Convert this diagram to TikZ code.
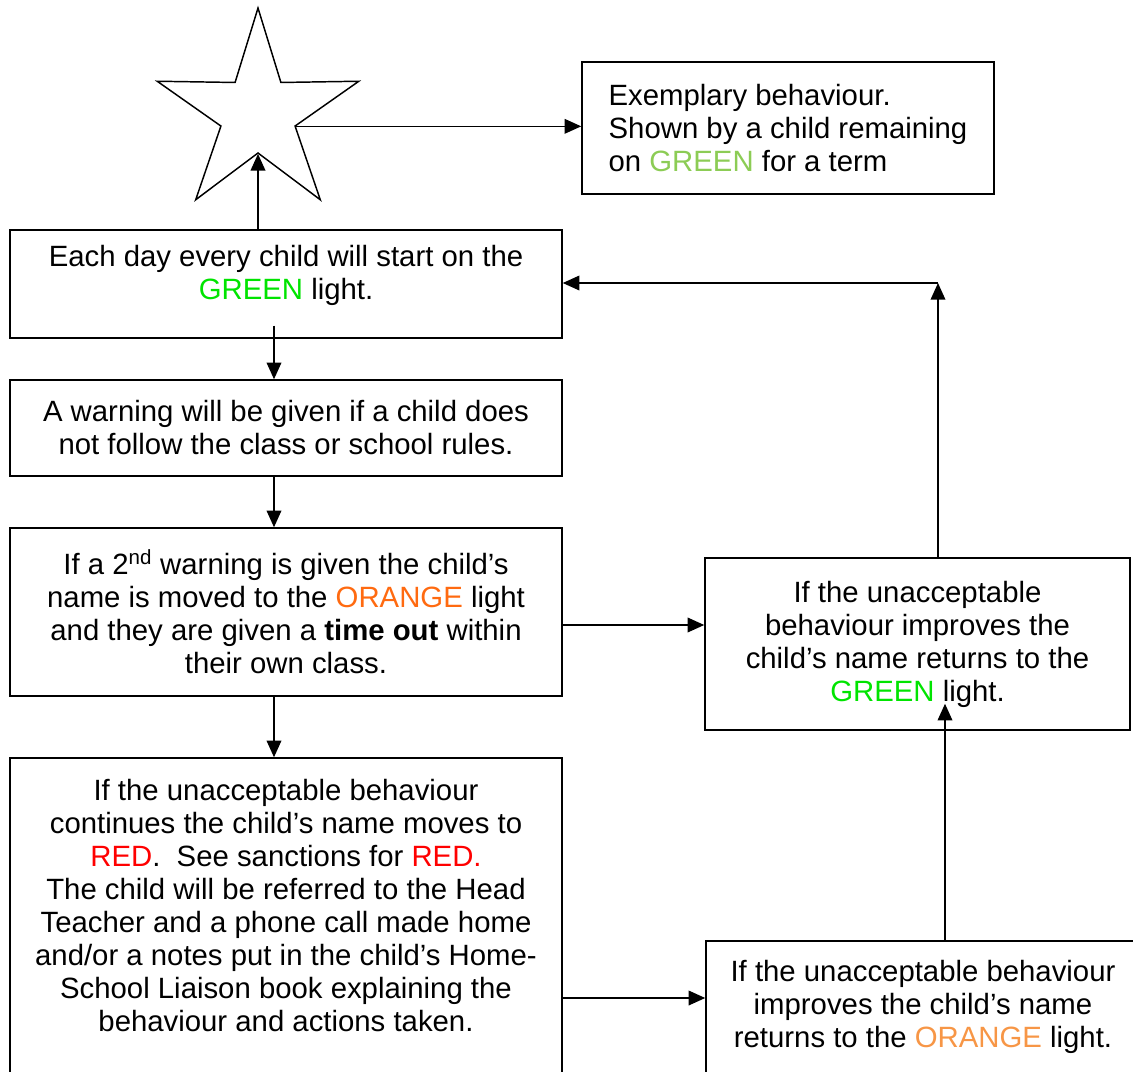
\documentclass[tikz,border=0pt]{standalone}
\usepackage{fontspec}
\setmainfont{Liberation Sans}
\usetikzlibrary{shapes.geometric,arrows.meta,calc}
\definecolor{lightgreen}{HTML}{00E400}
\definecolor{olivegreen}{HTML}{8CCC55}
\definecolor{darkorange}{HTML}{FF6A10}
\definecolor{paleorange}{HTML}{F79646}
\tikzset{arr/.style={-{Triangle[length=12.5pt,width=11pt]}},
  box/.style={draw, align=center, inner sep=0pt, font=\fontsize{22}{24.75}\selectfont}}

\begin{document}
\begin{tikzpicture}[x=0.75pt,y=-0.75pt,line width=1.1pt]
   \clip (0,0) rectangle (1133,1072);
   \node[draw, star, star points=5, star point ratio=2.72, minimum size=159pt, inner sep=0pt] (star) at (258,114) {};
   \node[box, align=left, minimum width=309pt, minimum height=99pt] (exemplary) at (788,128)
     {Exemplary behaviour.\\Shown by a child remaining\\on \textcolor{olivegreen}{GREEN} for a term};
   \node[box, minimum width=414pt, minimum height=81pt] (start) at (286,284)
     {Each day every child will start on the\\\textcolor{lightgreen}{GREEN} light.\\[-7pt] \mbox{}};
   \node[box, minimum width=414pt, minimum height=72pt] (warning) at (286,428)
     {A warning will be given if a child does\\not follow the class or school rules.};
   \node[box, minimum width=414pt, minimum height=126pt] (timeout) at (286,612)
     {If a 2\textsuperscript{nd} warning is given the child’s\\name is moved to the \textcolor{darkorange}{ORANGE} light\\and they are given a \textbf{time out} within\\their own class.};
   \node[box, minimum width=414pt, minimum height=246pt] (red) at (286,922)
     {If the unacceptable behaviour\\continues the child’s name moves to\\\textcolor{red}{RED}.\ \ See sanctions for \textcolor{red}{RED.}\\The child will be referred to the Head\\Teacher and a phone call made home\\and/or a notes put in the child’s Home-\\School Liaison book explaining the\\behaviour and actions taken.\\ \mbox{}};
   \node[box, minimum width=318.75pt, minimum height=129pt] (backgreen) at (917.5,644)
     {If the unacceptable\\behaviour improves the\\child’s name returns to the\\\textcolor{lightgreen}{GREEN} light.};
   \node[box, minimum width=325.5pt, minimum height=104.25pt] (backorange) at (923,1010.5)
     {If the unacceptable behaviour\\improves the child’s name\\returns to the \textcolor{paleorange}{ORANGE} light.\\[-15.5pt] \mbox{}};
   % connectors
   \coordinate (spine) at (274,0);
   \coordinate (turn) at (938,283);
   \coordinate (up) at (945,0);
   \coordinate (toright) at ($(timeout.east)+(0,13)$);
   \coordinate (tobottom) at ($(red.east)+(0,76)$);
   \draw[arr] (start.north -| star.inner point 3) -- (star.inner point 3);
   \draw[arr] (star.inner point 4) -- (star.inner point 4 -| exemplary.west);
   \draw[arr] ($(start.south -| spine)+(0,-13)$) -- (warning.north -| spine);
   \draw[arr] (warning.south -| spine) -- (timeout.north -| spine);
   \draw[arr] (timeout.south -| spine) -- (red.north -| spine);
   \draw[arr] (toright) -- (toright -| backgreen.west);
   \draw[arr] (turn |- backgreen.north) -- (turn);
   \draw[arr] (turn) -- (turn -| start.east);
   \draw[arr] (tobottom) -- (tobottom -| backorange.west);
   \draw[arr] (up |- backorange.north) -- ($(up |- backgreen.south)+(0,-27)$);
\end{tikzpicture}
\end{document}
